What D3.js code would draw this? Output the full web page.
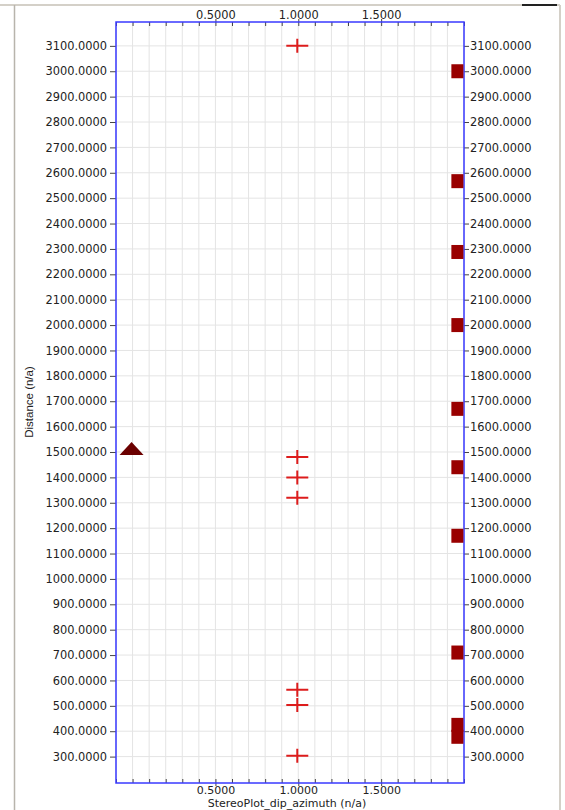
<!DOCTYPE html>
<html lang="en">
<head>
  <meta charset="UTF-8">
  <title>StereoPlot dip azimuth</title>
  <style>
    body { margin: 0; background: #fff; }
    .tick text { font-family: "DejaVu Sans", Verdana, sans-serif; font-size: 11.4px; fill: #222; }
    .axis--bottom .tick text { font-size: 11px; }
    .tick line { stroke: #444; }
    .domain { display: none; }
    .grid line { stroke: #e4e4e4; stroke-width: 1px; }
    .title { font-family: "DejaVu Sans", Verdana, sans-serif; font-size: 11px; fill: #222; }
    .ytitle { font-family: "Liberation Sans", Arial, sans-serif; font-size: 11.5px; fill: #222; }
  </style>
</head>
<body>
<script src="https://d3js.org/d3.v7.min.js"></script>
<script>
// values
const xDomain = [-0.1, 2.0]
const yDomain = [196, 3194]
const xLabels = [0.5, 1.0, 1.5]
const yTicks = d3.range(300, 3101, 100)

const crossX = 1.0
const crossY = [3100, 1480, 1400, 1320, 563, 503, 303]

const squareX = 1.96
const squareY = [3000, 2567, 2288, 2000, 1670, 1440, 1170, 710, 425, 378]

const triangleX = [0.0]
const triangleY = [1500]

const W = 565, H = 810
const plot = {left: 116, right: 464, top: 22, bottom: 783}

const svg = d3.select('body').append('svg')
  .attr('width', W)
  .attr('height', H)

// window frame
svg.append('line').attr('x1', 0).attr('x2', 560).attr('y1', 5).attr('y2', 5)
  .attr('stroke', '#d4d0c8').attr('stroke-width', 2)
svg.append('line').attr('x1', 522).attr('x2', 557).attr('y1', 5).attr('y2', 5)
  .attr('stroke', '#222').attr('stroke-width', 2)
svg.append('line').attr('x1', 14.5).attr('x2', 14.5).attr('y1', 5).attr('y2', H)
  .attr('stroke', '#b8b4ac').attr('stroke-width', 1.5)
svg.append('line').attr('x1', 560).attr('x2', 560).attr('y1', 5).attr('y2', H)
  .attr('stroke', '#d4d0c8').attr('stroke-width', 2)

const x = d3.scaleLinear().domain(xDomain).range([plot.left, plot.right])
const y = d3.scaleLinear().domain(yDomain).range([plot.bottom, plot.top])

const minor = d3.range(-0.1, 2.0001, 0.1).map(d => Math.round(d * 10) / 10)

// grid
const grid = svg.append('g').attr('class', 'grid')
grid.selectAll('.gx').data(minor).join('line')
  .attr('x1', d => x(d)).attr('x2', d => x(d))
  .attr('y1', plot.top).attr('y2', plot.bottom)
grid.selectAll('.gy').data(yTicks).join('line')
  .attr('x1', plot.left).attr('x2', plot.right)
  .attr('y1', d => y(d)).attr('y2', d => y(d))

// y axes
const fmt = d3.format('.4f')
svg.append('g')
  .attr('transform', `translate(${plot.left},0)`)
  .call(d3.axisLeft(y).tickValues(yTicks).tickFormat(fmt).tickSize(6).tickPadding(3))
svg.append('g')
  .attr('transform', `translate(${plot.right},0)`)
  .call(d3.axisRight(y).tickValues(yTicks).tickFormat(fmt).tickSize(5).tickPadding(1))

// x axes: minor ticks inside, labelled ticks outside
svg.append('g')
  .attr('transform', `translate(0,${plot.top})`)
  .call(d3.axisTop(x).tickValues(xLabels).tickFormat(fmt).tickSize(3).tickPadding(0))
svg.append('g')
  .attr('class', 'axis--bottom')
  .attr('transform', `translate(0,${plot.bottom})`)
  .call(d3.axisBottom(x).tickValues(xLabels).tickFormat(fmt).tickSize(3).tickPadding(0))
svg.append('g')
  .attr('transform', `translate(0,${plot.top})`)
  .call(d3.axisBottom(x).tickValues(minor).tickFormat('').tickSize(4))
svg.append('g')
  .attr('transform', `translate(0,${plot.bottom})`)
  .call(d3.axisTop(x).tickValues(minor).tickFormat('').tickSize(4))

// plot border
svg.append('rect')
  .attr('x', plot.left).attr('y', plot.top)
  .attr('width', plot.right - plot.left).attr('height', plot.bottom - plot.top)
  .attr('fill', 'none').attr('stroke', '#3a3aff').attr('stroke-width', 1.5)

// squares
svg.selectAll('.sq').data(squareY).join('rect')
  .attr('x', x(squareX) - 6).attr('y', d => y(d) - 7)
  .attr('width', 12).attr('height', 14)
  .attr('fill', '#990000')

// triangle
const tri = triangleX.map((d, i) => ({x: d, y: triangleY[i]}))
svg.selectAll('.tri').data(tri).join('path')
  .attr('d', d => {
    const cx = x(d.x) - 1, cy = y(d.y)
    return `M${cx - 12},${cy + 3}L${cx + 12},${cy + 3}L${cx},${cy - 10}Z`
  })
  .attr('fill', '#6b0000')

// crosses
svg.selectAll('.cross').data(crossY).join('path')
  .attr('d', d => {
    const cx = x(crossX) - 1, cy = y(d)
    return `M${cx - 11},${cy}H${cx + 11}M${cx},${cy - 7}V${cy + 7}`
  })
  .attr('stroke', '#dd1c1c').attr('stroke-width', 2).attr('fill', 'none')

// titles
svg.append('text').attr('class', 'title')
  .attr('x', 287).attr('y', 807)
  .attr('text-anchor', 'middle')
  .text('StereoPlot_dip_azimuth (n/a)')
svg.append('text').attr('class', 'ytitle')
  .attr('transform', 'translate(33,402) rotate(-90)')
  .attr('text-anchor', 'middle')
  .text('Distance (n/a)')
</script>
</body>
</html>
